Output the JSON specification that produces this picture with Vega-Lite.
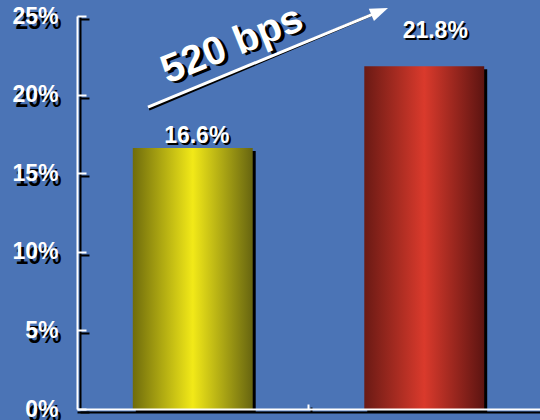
{
  "$schema": "https://vega.github.io/schema/vega-lite/v6.json",
  "width": 463,
  "height": 393,
  "autosize": "none",
  "padding": {"left": 77, "top": 16, "right": 0, "bottom": 11},
  "background": "#4b74b6",
  "config": {"view": {"stroke": null}, "font": "Liberation Sans"},
  "layer": [
    {
      "data": {"values": [
        {"period": "Period 1", "rate": 0.166},
        {"period": "Period 2", "rate": 0.218}
      ]},
      "layer": [
        {
          "mark": {"type": "bar", "fill": "#000000", "xOffset": 3, "yOffset": 3, "width": {"band": 0.518}},
          "encoding": {
            "x": {"field": "period", "type": "nominal", "sort": null,
              "scale": {"paddingInner": 0, "paddingOuter": 0},
              "axis": {"orient": "bottom", "title": null, "labels": false, "domainColor": "#000000", "domainWidth": 2, "offset": 3,
                "values": ["Period 2"], "bandPosition": 0, "tickColor": "#000000", "tickWidth": 2, "tickSize": -5, "tickOffset": 2, "zindex": 1}},
            "y": {"field": "rate", "type": "quantitative",
              "scale": {"domain": [0, 0.25], "nice": false},
              "axis": {"orient": "left", "title": null, "values": [0, 0.05, 0.1, 0.15, 0.2, 0.25], "format": ".0%",
                "domainColor": "#000000", "domainWidth": 2, "offset": -3, "tickColor": "#000000", "tickWidth": 2, "tickSize": -9, "tickOffset": 3,
                "labelColor": "#000000", "labelFontSize": 23, "labelFontWeight": "bold", "labelFont": "Liberation Sans", "labelPadding": 28, "labelOffset": 2,
                "labelBaseline": "middle", "grid": false, "zindex": 1}}
          }
        },
        {
          "transform": [{"filter": "datum.period === 'Period 1'"}],
          "mark": {"type": "bar", "width": {"band": 0.518},
            "fill": {"gradient": "linear", "x1": 0, "x2": 1, "y1": 0, "y2": 0,
              "stops": [{"offset": 0, "color": "#6f6c0c"}, {"offset": 0.5, "color": "#f2e918"}, {"offset": 1, "color": "#676510"}]}},
          "encoding": {
            "x": {"field": "period", "type": "nominal", "sort": null,
              "axis": {"orient": "bottom", "title": null, "labels": false, "domainColor": "#ffffff", "domainWidth": 2,
                "values": ["Period 2"], "bandPosition": 0, "tickColor": "#ffffff", "tickWidth": 2, "tickSize": -5, "zindex": 2}},
            "y": {"field": "rate", "type": "quantitative",
              "scale": {"domain": [0, 0.25], "nice": false},
              "axis": {"orient": "left", "title": null, "values": [0, 0.05, 0.1, 0.15, 0.2, 0.25], "format": ".0%",
                "domainColor": "#ffffff", "domainWidth": 2, "tickColor": "#ffffff", "tickWidth": 2, "tickSize": -9,
                "labelColor": "#ffffff", "labelFontSize": 23, "labelFontWeight": "bold", "labelFont": "Liberation Sans", "labelPadding": 28,
                "labelBaseline": "middle", "grid": false, "zindex": 2}}
          }
        },
        {
          "transform": [{"filter": "datum.period === 'Period 2'"}],
          "mark": {"type": "bar", "width": {"band": 0.518},
            "fill": {"gradient": "linear", "x1": 0, "x2": 1, "y1": 0, "y2": 0,
              "stops": [{"offset": 0, "color": "#6a1a14"}, {"offset": 0.5, "color": "#da3a2c"}, {"offset": 1, "color": "#5c1411"}]}},
          "encoding": {
            "x": {"field": "period", "type": "nominal", "sort": null, "axis": null},
            "y": {"field": "rate", "type": "quantitative", "scale": {"domain": [0, 0.25], "nice": false}, "axis": null}
          }
        },
        {
          "transform": [{"filter": "datum.period === 'Period 1'"}],
          "layer": [
            {"mark": {"type": "text", "color": "#000000", "fontSize": 23, "fontWeight": "bold", "baseline": "alphabetic", "align": "center", "dx": 6, "dy": -3}},
            {"mark": {"type": "text", "color": "#ffffff", "fontSize": 23, "fontWeight": "bold", "baseline": "alphabetic", "align": "center", "dx": 4, "dy": -5}}
          ],
          "encoding": {
            "x": {"field": "period", "type": "nominal", "sort": null, "axis": null},
            "y": {"field": "rate", "type": "quantitative", "scale": {"domain": [0, 0.25], "nice": false}, "axis": null},
            "text": {"field": "rate", "type": "quantitative", "format": ".1%"}
          }
        },
        {
          "transform": [{"filter": "datum.period === 'Period 2'"}],
          "layer": [
            {"mark": {"type": "text", "color": "#000000", "fontSize": 23, "fontWeight": "bold", "baseline": "alphabetic", "align": "center", "dx": 13, "dy": -26}},
            {"mark": {"type": "text", "color": "#ffffff", "fontSize": 23, "fontWeight": "bold", "baseline": "alphabetic", "align": "center", "dx": 11, "dy": -28}}
          ],
          "encoding": {
            "x": {"field": "period", "type": "nominal", "sort": null, "axis": null},
            "y": {"field": "rate", "type": "quantitative", "scale": {"domain": [0, 0.25], "nice": false}, "axis": null},
            "text": {"field": "rate", "type": "quantitative", "format": ".1%"}
          }
        }
      ],
      "resolve": {"axis": {"x": "independent", "y": "independent"}}
    },
    {
      "data": {"values": [{"label": "520 bps"}]},
      "layer": [
        {
          "mark": {"type": "rule", "color": "#000000", "strokeWidth": 3, "xOffset": 1, "yOffset": 2},
          "encoding": {
            "x": {"datum": 0.1533, "type": "quantitative", "scale": {"domain": [0, 1], "nice": false}, "axis": null},
            "x2": {"datum": 0.6538},
            "y": {"datum": 0.1921, "type": "quantitative", "scale": {"domain": [0, 0.25], "nice": false}, "axis": null},
            "y2": {"datum": 0.2529}
          }
        },
        {
          "mark": {"type": "rule", "color": "#ffffff", "strokeWidth": 3},
          "encoding": {
            "x": {"datum": 0.1533, "type": "quantitative", "scale": {"domain": [0, 1], "nice": false}, "axis": null},
            "x2": {"datum": 0.6538},
            "y": {"datum": 0.1921, "type": "quantitative", "scale": {"domain": [0, 0.25], "nice": false}, "axis": null},
            "y2": {"datum": 0.2529}
          }
        },
        {
          "mark": {"type": "point", "shape": "M1,0L-1,-0.75L-1,0.75Z", "filled": true, "color": "#ffffff", "opacity": 1, "size": 324, "angle": -22.4},
          "encoding": {
            "x": {"datum": 0.6538, "type": "quantitative", "scale": {"domain": [0, 1], "nice": false}, "axis": null},
            "y": {"datum": 0.2529, "type": "quantitative", "scale": {"domain": [0, 0.25], "nice": false}, "axis": null}
          }
        },
        {
          "mark": {"type": "text", "color": "#000000", "fontSize": 40, "fontWeight": "bold", "angle": -22, "align": "center", "baseline": "middle", "dx": 3, "dy": 3},
          "encoding": {
            "x": {"datum": 0.3348, "type": "quantitative", "scale": {"domain": [0, 1], "nice": false}, "axis": null},
            "y": {"datum": 0.2315, "type": "quantitative", "scale": {"domain": [0, 0.25], "nice": false}, "axis": null},
            "text": {"field": "label", "type": "nominal"}
          }
        },
        {
          "mark": {"type": "text", "color": "#ffffff", "fontSize": 40, "fontWeight": "bold", "angle": -22, "align": "center", "baseline": "middle"},
          "encoding": {
            "x": {"datum": 0.3348, "type": "quantitative", "scale": {"domain": [0, 1], "nice": false}, "axis": null},
            "y": {"datum": 0.2315, "type": "quantitative", "scale": {"domain": [0, 0.25], "nice": false}, "axis": null},
            "text": {"field": "label", "type": "nominal"}
          }
        }
      ]
    }
  ],
  "resolve": {"scale": {"x": "independent"}, "axis": {"x": "independent", "y": "independent"}}
}
